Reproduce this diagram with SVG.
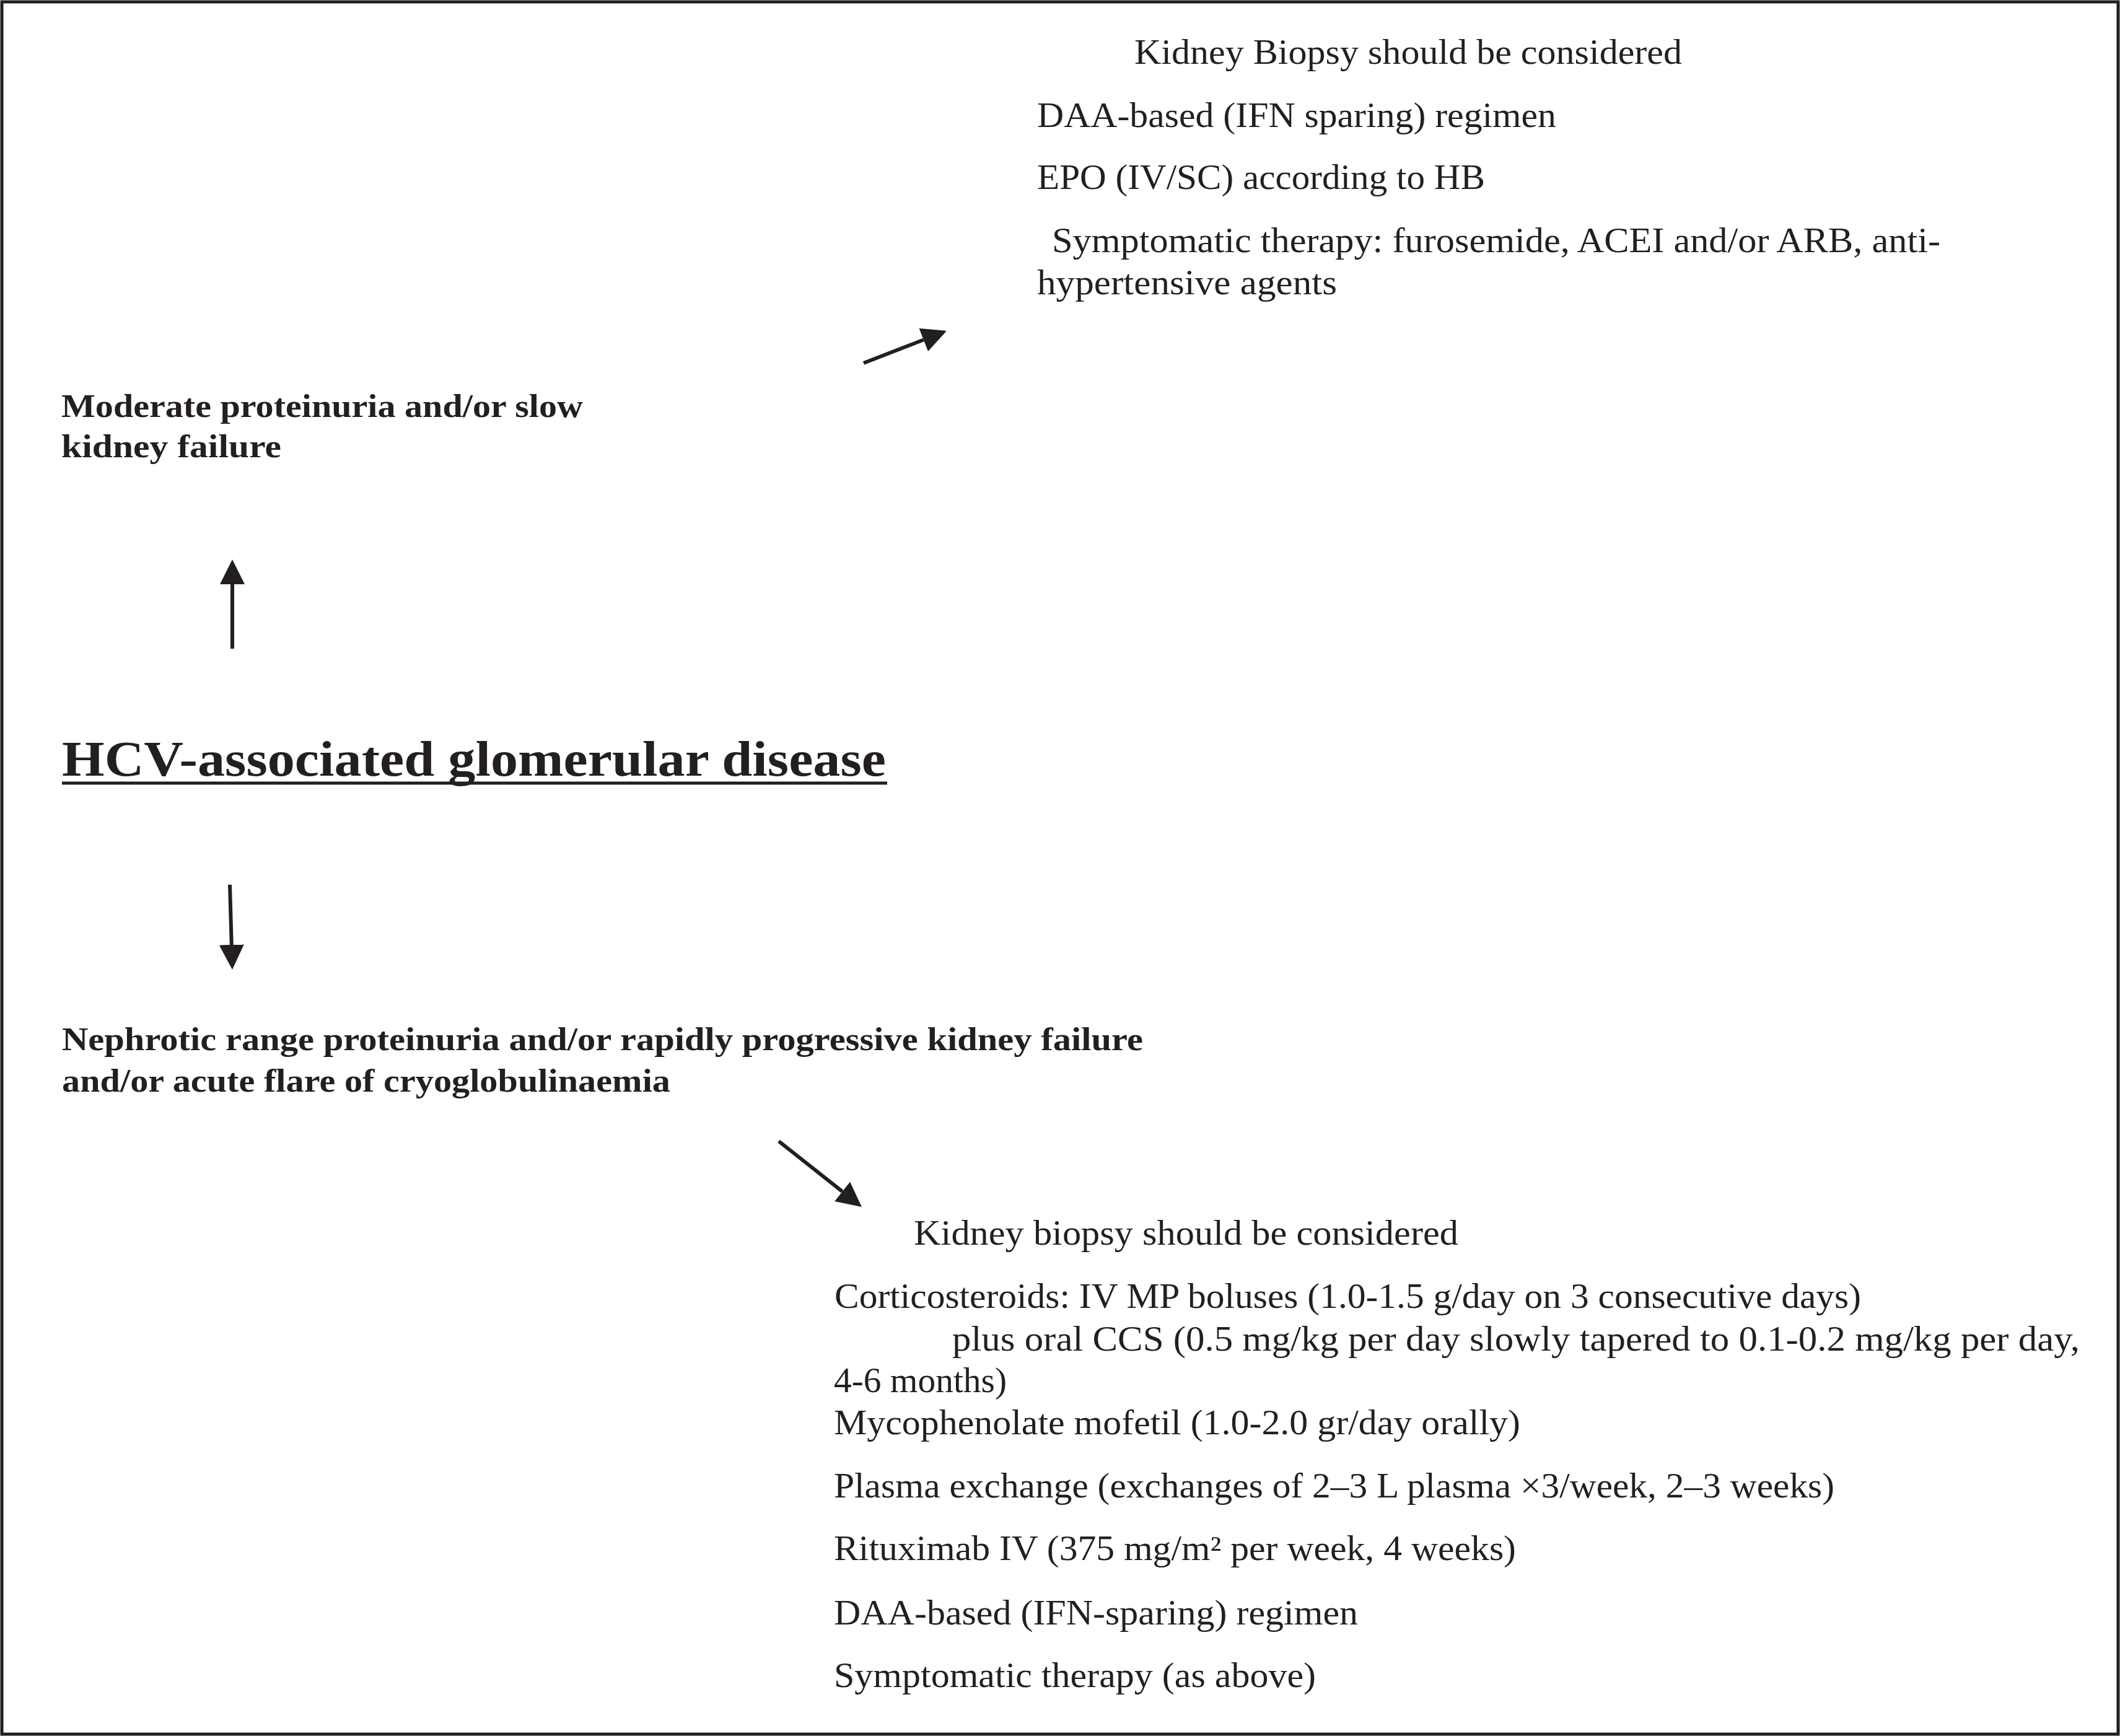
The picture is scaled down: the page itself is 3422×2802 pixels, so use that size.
<svg xmlns="http://www.w3.org/2000/svg" width="3422" height="2802" viewBox="0 0 3422 2802">
<style>
  text { font-family: "Liberation Serif", "Times New Roman", serif; fill: #231f20; }
  .r { font-size: 56px; }
  .b { font-size: 53px; font-weight: bold; }
  .t { font-size: 80px; font-weight: bold; }
  .conn { stroke: #231f20; stroke-width: 6; fill: none; marker-end: url(#ah); }
</style>
<defs>
  <marker id="ah" viewBox="0 0 40 40" refX="0" refY="20" markerWidth="40" markerHeight="40" markerUnits="userSpaceOnUse" orient="auto">
    <path d="M0,0 L40,20 L0,40 z" fill="#231f20"/>
  </marker>
</defs>
<rect x="0" y="0" width="3422" height="2802" fill="#ffffff"/>
<rect x="3" y="3" width="3416" height="2796" fill="none" stroke="#231f20" stroke-width="5"/>

<g id="top-treatment">
  <text class="r" x="1831" y="103" textLength="884" lengthAdjust="spacingAndGlyphs">Kidney Biopsy should be considered</text>
  <text class="r" x="1674" y="205" textLength="838" lengthAdjust="spacingAndGlyphs">DAA-based (IFN sparing) regimen</text>
  <text class="r" x="1674" y="305" textLength="723" lengthAdjust="spacingAndGlyphs">EPO (IV/SC) according to HB</text>
  <text class="r" x="1698" y="407" textLength="1434" lengthAdjust="spacingAndGlyphs">Symptomatic therapy: furosemide, ACEI and/or ARB, anti-</text>
  <text class="r" x="1674" y="475" textLength="484" lengthAdjust="spacingAndGlyphs">hypertensive agents</text>
</g>

<g id="moderate">
  <text class="b" x="99" y="673" textLength="842" lengthAdjust="spacingAndGlyphs">Moderate proteinuria and/or slow</text>
  <text class="b" x="99" y="738" textLength="355" lengthAdjust="spacingAndGlyphs">kidney failure</text>
</g>

<g id="hcv">
  <text class="t" x="100" y="1252" textLength="1330" lengthAdjust="spacingAndGlyphs">HCV-associated glomerular disease</text>
  <line x1="100" y1="1264" x2="1432" y2="1264" stroke="#231f20" stroke-width="5"/>
</g>

<g id="nephrotic">
  <text class="b" x="100" y="1695" textLength="1745" lengthAdjust="spacingAndGlyphs">Nephrotic range proteinuria and/or rapidly progressive kidney failure</text>
  <text class="b" x="100" y="1762" textLength="982" lengthAdjust="spacingAndGlyphs">and/or acute flare of cryoglobulinaemia</text>
</g>

<g id="bottom-treatment">
  <text class="r" x="1475" y="2009" textLength="879" lengthAdjust="spacingAndGlyphs">Kidney biopsy should be considered</text>
  <text class="r" x="1347" y="2111" textLength="1657" lengthAdjust="spacingAndGlyphs">Corticosteroids: IV MP boluses (1.0-1.5 g/day on 3 consecutive days)</text>
  <text class="r" x="1537" y="2180" textLength="1820" lengthAdjust="spacingAndGlyphs">plus oral CCS (0.5 mg/kg per day slowly tapered to 0.1-0.2 mg/kg per day,</text>
  <text class="r" x="1346" y="2247" textLength="279" lengthAdjust="spacingAndGlyphs">4-6 months)</text>
  <text class="r" x="1346" y="2315" textLength="1108" lengthAdjust="spacingAndGlyphs">Mycophenolate mofetil (1.0-2.0 gr/day orally)</text>
  <text class="r" x="1346" y="2417" textLength="1615" lengthAdjust="spacingAndGlyphs">Plasma exchange (exchanges of 2–3 L plasma ×3/week, 2–3 weeks)</text>
  <text class="r" x="1346" y="2518" textLength="1101" lengthAdjust="spacingAndGlyphs">Rituximab IV (375 mg/m² per week, 4 weeks)</text>
  <text class="r" x="1346" y="2622" textLength="846" lengthAdjust="spacingAndGlyphs">DAA-based (IFN-sparing) regimen</text>
  <text class="r" x="1346" y="2723" textLength="778" lengthAdjust="spacingAndGlyphs">Symptomatic therapy (as above)</text>
</g>

<g id="connectors">
  <line class="conn" x1="375" y1="1047" x2="375" y2="943"/>
  <line class="conn" x1="371" y1="1428" x2="373.8" y2="1525"/>
  <line class="conn" x1="1394" y1="586" x2="1490.7" y2="548.5"/>
  <line class="conn" x1="1257" y1="1842" x2="1359.6" y2="1923.2"/>
</g>
</svg>
